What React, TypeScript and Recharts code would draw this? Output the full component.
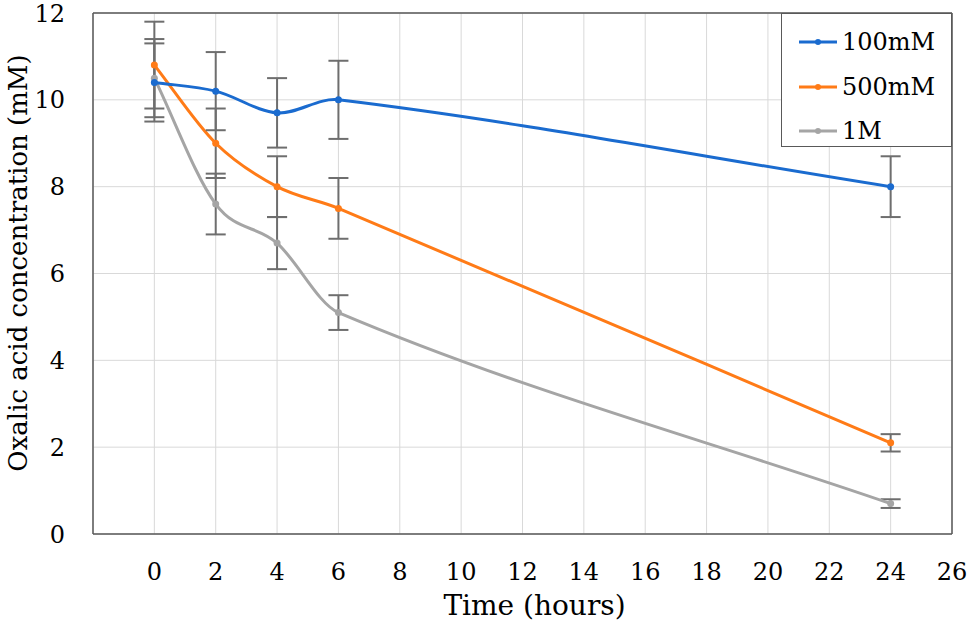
import {
  CartesianGrid,
  ErrorBar,
  Legend,
  Line,
  LineChart,
  ReferenceLine,
  XAxis,
  YAxis,
} from "recharts";

// time points (hours)
const timeHours = [0, 2, 4, 6, 24];

// oxalic acid concentration (mM) and error bars
const conc100mM = [10.4, 10.2, 9.7, 10.0, 8.0];
const err100mM = [0.9, 0.9, 0.8, 0.9, 0.7];
const conc500mM = [10.8, 9.0, 8.0, 7.5, 2.1];
const err500mM = [1.0, 0.8, 0.7, 0.7, 0.2];
const conc1M = [10.5, 7.6, 6.7, 5.1, 0.7];
const err1M = [0.9, 0.7, 0.6, 0.4, 0.1];

const xTicks = [0, 2, 4, 6, 8, 10, 12, 14, 16, 18, 20, 22, 24, 26];
const yTicks = [0, 2, 4, 6, 8, 10, 12];

const seriesNames = ["100mM", "500mM", "1M"];
const seriesColors = ["#1a6bcf", "#ff7b17", "#a5a5a5"];

const FONT = "'DejaVu Serif', serif";
const AXIS = "#595959";
const ERR = "#6e6e6e";

const data = timeHours.map((t, i) => ({
  t,
  a: conc100mM[i],
  aErr: err100mM[i],
  b: conc500mM[i],
  bErr: err500mM[i],
  c: conc1M[i],
  cErr: err1M[i],
}));

// smoothed line like a spreadsheet: bezier segments, tangent (next - prev)
// scaled by the share of the x-span so uneven spacing does not loop
function smoothCurve(context: any) {
  let pts: number[][] = [];
  const ctrl = (prev: number[], cur: number[], next: number[], span: number, other: number, sign: number) => {
    const total = span + other;
    const k = total > 0 ? span / total / 3 : 1 / 3;
    return [cur[0] + sign * (next[0] - prev[0]) * k, cur[1] + sign * (next[1] - prev[1]) * k];
  };
  return {
    areaStart() {},
    areaEnd() {},
    lineStart() {
      pts = [];
    },
    point(x: number, y: number) {
      pts.push([+x, +y]);
    },
    lineEnd() {
      if (!pts.length) return;
      context.moveTo(pts[0][0], pts[0][1]);
      for (let i = 0; i < pts.length - 1; i++) {
        const p0 = pts[i - 1] ?? pts[i];
        const p1 = pts[i];
        const p2 = pts[i + 1];
        const p3 = pts[i + 2] ?? pts[i + 1];
        const h = Math.abs(p2[0] - p1[0]);
        const hPrev = Math.abs(p1[0] - p0[0]);
        const hNext = Math.abs(p3[0] - p2[0]);
        const c1 = ctrl(p0, p1, p2, h, hPrev, 1);
        const c2 = ctrl(p1, p2, p3, h, hNext, -1);
        context.bezierCurveTo(c1[0], c1[1], c2[0], c2[1], p2[0], p2[1]);
      }
    },
  };
}

function LegendBox() {
  return (
    <div
      style={{
        width: 171,
        height: 134,
        boxSizing: "border-box",
        border: `1.5px solid ${AXIS}`,
        background: "#fff",
        paddingTop: 6,
        fontFamily: FONT,
        fontSize: 24,
        color: "#000",
      }}
    >
      {seriesNames.map((name, i) => (
        <div
          key={name}
          style={{ display: "flex", alignItems: "center", height: 44.5, paddingLeft: 16 }}
        >
          <svg width={40} height={10} style={{ marginRight: 4 }}>
            <line x1={1} y1={5} x2={39} y2={5} stroke={seriesColors[i]} strokeWidth={3} />
            <circle cx={20} cy={5} r={3} fill={seriesColors[i]} />
          </svg>
          <span>{name}</span>
        </div>
      ))}
    </div>
  );
}

function XTitle(props: any) {
  const vb = props.viewBox || {};
  return (
    <text
      x={vb.x + vb.width / 2 + 12}
      y={615}
      textAnchor="middle"
      fontFamily={FONT}
      fontSize={28}
      fill="#000"
    >
      Time (hours)
    </text>
  );
}

function YTitle() {
  return (
    <text
      x={0}
      y={0}
      transform="translate(18, 263) rotate(-90)"
      textAnchor="middle"
      dominantBaseline="central"
      fontFamily={FONT}
      fontSize={26}
      fill="#000"
    >
      Oxalic acid concentration (mM)
    </text>
  );
}

export default function App() {
  return (
    <div style={{ position: "absolute", left: 0, top: 0, width: 969, height: 628, background: "#fff" }}>
      <LineChart
        width={969}
        height={628}
        data={data}
        margin={{ top: 13, right: 17, left: 23, bottom: 0 }}
      >
        <CartesianGrid stroke="#d9d9d9" strokeWidth={1} />
        <XAxis
          dataKey="t"
          type="number"
          domain={[-2, 26]}
          ticks={xTicks}
          interval={0}
          height={94}
          tickLine={false}
          tickSize={0}
          tickMargin={29}
          axisLine={{ stroke: AXIS, strokeWidth: 1.5 }}
          tick={{ fill: "#000", fontSize: 24, fontFamily: FONT }}
          label={<XTitle />}
        />
        <YAxis
          type="number"
          domain={[0, 12]}
          ticks={yTicks}
          interval={0}
          width={70}
          tickLine={false}
          tickSize={0}
          tickMargin={28}
          axisLine={{ stroke: AXIS, strokeWidth: 1.5 }}
          tick={{ fill: "#000", fontSize: 24, fontFamily: FONT }}
          label={<YTitle />}
        />
        <ReferenceLine x={26} stroke={AXIS} strokeWidth={1.5} />
        <ReferenceLine y={12} stroke={AXIS} strokeWidth={1.5} />
        <Line
          type={smoothCurve as any}
          dataKey="c"
          name={seriesNames[2]}
          stroke={seriesColors[2]}
          strokeWidth={3}
          dot={{ r: 3.5, fill: seriesColors[2], stroke: seriesColors[2], strokeWidth: 0 }}
          isAnimationActive={false}
        >
          <ErrorBar dataKey="cErr" direction="y" width={10} stroke={ERR} strokeWidth={2} isAnimationActive={false} />
        </Line>
        <Line
          type={smoothCurve as any}
          dataKey="b"
          name={seriesNames[1]}
          stroke={seriesColors[1]}
          strokeWidth={3}
          dot={{ r: 3.5, fill: seriesColors[1], stroke: seriesColors[1], strokeWidth: 0 }}
          isAnimationActive={false}
        >
          <ErrorBar dataKey="bErr" direction="y" width={10} stroke={ERR} strokeWidth={2} isAnimationActive={false} />
        </Line>
        <Line
          type={smoothCurve as any}
          dataKey="a"
          name={seriesNames[0]}
          stroke={seriesColors[0]}
          strokeWidth={3}
          dot={{ r: 3.5, fill: seriesColors[0], stroke: seriesColors[0], strokeWidth: 0 }}
          isAnimationActive={false}
        >
          <ErrorBar dataKey="aErr" direction="y" width={10} stroke={ERR} strokeWidth={2} isAnimationActive={false} />
        </Line>
        <Legend
          layout="vertical"
          align="center"
          verticalAlign="middle"
          content={() => <LegendBox />}
          wrapperStyle={{ top: 13, left: 781, width: 171, height: 134, bottom: "auto", right: "auto" }}
        />
      </LineChart>
    </div>
  );
}
